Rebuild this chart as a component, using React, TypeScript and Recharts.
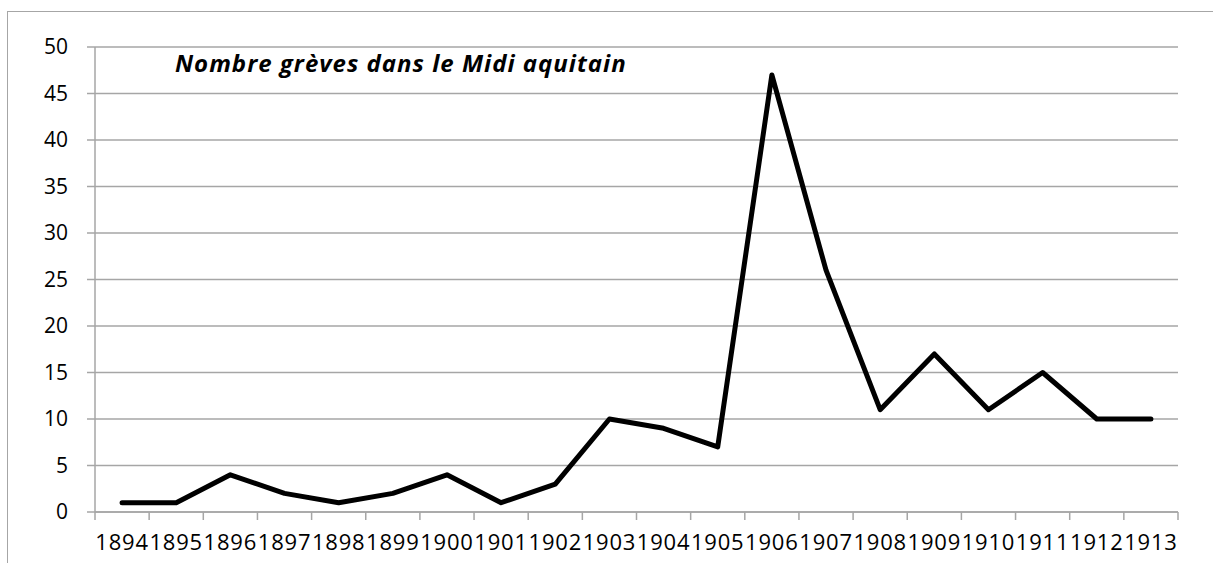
import React from 'react';
import { LineChart, Line, XAxis, YAxis, CartesianGrid } from 'recharts';

const years = [
  '1894', '1895', '1896', '1897', '1898', '1899', '1900', '1901', '1902', '1903',
  '1904', '1905', '1906', '1907', '1908', '1909', '1910', '1911', '1912', '1913',
];
const strikes = [1, 1, 4, 2, 1, 2, 4, 1, 3, 10, 9, 7, 47, 26, 11, 17, 11, 15, 10, 10];
const yTicks = [0, 5, 10, 15, 20, 25, 30, 35, 40, 45, 50];
const title = 'Nombre grèves dans le Midi aquitain';

const data = years.map((year, i) => ({ year, value: strikes[i] }));

const W = 1213;
const H = 563;
const PLOT_LEFT = 95;
const PLOT_RIGHT = 1178;
const HALF_STEP = (PLOT_RIGHT - PLOT_LEFT) / years.length / 2;
const GRAY = '#a6a6a6';
const FONT = '"Open Sans", "Noto Sans", sans-serif';
const TICK_SIZE = 8;
const TICK_MARGIN = 14;

// category ticks sit between the years, like in the spreadsheet chart
const YearTick = (props: any) => {
  const { x, y, payload, index } = props;
  const axisY = y - TICK_SIZE - TICK_MARGIN;
  return (
    <g>
      <line x1={x - HALF_STEP} x2={x - HALF_STEP} y1={axisY} y2={axisY + TICK_SIZE} stroke={GRAY} strokeWidth={1.5} />
      {index === years.length - 1 && (
        <line x1={x + HALF_STEP} x2={x + HALF_STEP} y1={axisY} y2={axisY + TICK_SIZE} stroke={GRAY} strokeWidth={1.5} />
      )}
      <text x={x} y={y} dy={16} textAnchor="middle" fill="#000" fontSize={22} fontFamily={FONT} letterSpacing={0.8}>
        {payload.value}
      </text>
    </g>
  );
};

export default function App() {
  return (
    <div style={{ position: 'absolute', left: 0, top: 0, width: W, height: H, overflow: 'hidden', background: '#fff' }}>
      <div
        style={{
          position: 'absolute',
          left: 7,
          top: 11,
          width: W,
          height: H,
          borderLeft: `1.25px solid ${GRAY}`,
          borderTop: `1.25px solid ${GRAY}`,
        }}
      />
      <div style={{ position: 'absolute', left: 0, top: 0 }}>
        <LineChart width={W} height={H} data={data} margin={{ top: 47, right: W - PLOT_RIGHT, bottom: 0, left: 0 }}>
          <CartesianGrid vertical={false} stroke={GRAY} strokeWidth={1.5} />
          <XAxis
            dataKey="year"
            height={51}
            padding={{ left: HALF_STEP, right: HALF_STEP }}
            stroke={GRAY}
            strokeWidth={1.5}
            tickLine={false}
            tickSize={TICK_SIZE}
            tickMargin={TICK_MARGIN}
            interval={0}
            tick={<YearTick />}
          />
          <YAxis
            width={PLOT_LEFT}
            domain={[0, 50]}
            ticks={yTicks}
            interval={0}
            stroke={GRAY}
            strokeWidth={1.5}
            tickSize={TICK_SIZE}
            tickMargin={19}
            tick={{ fill: '#000', fontSize: 21, fontFamily: FONT }}
          />
          <Line
            type="linear"
            dataKey="value"
            stroke="#000"
            strokeWidth={5}
            strokeLinejoin="round"
            strokeLinecap="round"
            dot={false}
            activeDot={false}
            isAnimationActive={false}
          />
        </LineChart>
      </div>
      <div
        style={{
          position: 'absolute',
          left: 175,
          top: 49,
          fontFamily: FONT,
          fontSize: 24,
          fontWeight: 'bold',
          fontStyle: 'italic',
          letterSpacing: 1,
          color: '#000',
          whiteSpace: 'nowrap',
          lineHeight: '28px',
        }}
      >
        {title}
      </div>
    </div>
  );
}
